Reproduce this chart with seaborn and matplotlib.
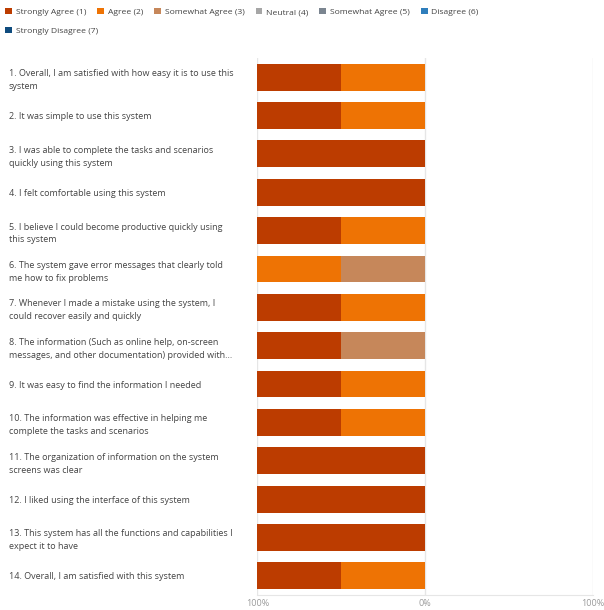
import numpy as np
import pandas as pd
import seaborn as sns
import matplotlib.pyplot as plt
from matplotlib.patches import Patch

# survey statements (y axis)
questions = [
    "1. Overall, I am satisfied with how easy it is to use this\nsystem",
    "2. It was simple to use this system",
    "3. I was able to complete the tasks and scenarios\nquickly using this system",
    "4. I felt comfortable using this system",
    "5. I believe I could become productive quickly using\nthis system",
    "6. The system gave error messages that clearly told\nme how to fix problems",
    "7. Whenever I made a mistake using the system, I\ncould recover easily and quickly",
    "8. The information (Such as online help, on-screen\nmessages, and other documentation) provided with...",
    "9. It was easy to find the information I needed",
    "10. The information was effective in helping me\ncomplete the tasks and scenarios",
    "11. The organization of information on the system\nscreens was clear",
    "12. I liked using the interface of this system",
    "13. This system has all the functions and capabilities I\nexpect it to have",
    "14. Overall, I am satisfied with this system",
]

# share of answers in percent
strongly_agree = [50, 50, 100, 100, 50, 0, 50, 50, 50, 50, 100, 100, 100, 50]
agree = [50, 50, 0, 0, 50, 50, 50, 0, 50, 50, 0, 0, 0, 50]
somewhat_agree = [0, 0, 0, 0, 0, 50, 0, 50, 0, 0, 0, 0, 0, 0]

legend_labels = ["Strongly Agree (1)", "Agree (2)", "Somewhat Agree (3)", "Neutral (4)",
                 "Somewhat Agree (5)", "Disagree (6)", "Strongly Disagree (7)"]
legend_colors = ["#BC3C00", "#EE7304", "#C6875A", "#A6A6A6", "#7B8590", "#2F7EBC", "#0F4C7E"]

df = pd.DataFrame({"question": questions, "sa": strongly_agree,
                   "a": agree, "swa": somewhat_agree})
# agree side is drawn to the left of 0, outermost category first
df["c1"] = -(df["sa"] + df["a"] + df["swa"])
df["c2"] = -(df["a"] + df["swa"])
df["c3"] = -df["swa"]

plt.rcParams["font.family"] = ["Open Sans", "DejaVu Sans"]
fig = plt.figure(figsize=(6.04, 6.10), dpi=100)
ax = fig.add_axes([0.426, 0.0246, 0.556, 0.8804])

for col, color in zip(["c1", "c2", "c3"], legend_colors[:3]):
    sns.barplot(data=df, x=col, y="question", orient="h", color=color,
                width=0.7, saturation=1, ax=ax, edgecolor="none")

ax.set_xlim(-100, 100)
ax.set_ylim(13.5, -0.5)
ax.set_xticks([-100, 0, 100])
ax.set_xticklabels(["100%", "0%", "100%"], color="#9a9a9a", fontsize=6.5)
ax.tick_params(axis="x", length=0, pad=3)
ax.tick_params(axis="y", length=0, pad=179)
ax.set_yticks(range(len(questions)))
ax.set_yticklabels(questions, ha="left", fontsize=6.5, color="#444444", linespacing=1.55)
ax.set_xlabel("")
ax.set_ylabel("")
for x in [-100, 0, 100]:
    ax.axvline(x, color="#e6e6e6", lw=1, zorder=0)
for s in ["top", "left", "right"]:
    ax.spines[s].set_visible(False)
ax.spines["bottom"].set_color("#e6e6e6")

handles = [Patch(facecolor=c, edgecolor="none") for c in legend_colors]
leg_kw = dict(frameon=False, fontsize=6.1, handlelength=0.8, handleheight=0.8,
              handletextpad=0.45, columnspacing=1.3, borderaxespad=0, borderpad=0)
leg1 = fig.legend(handles[:6], legend_labels[:6], ncol=6, loc="center left",
                  bbox_to_anchor=(0.009, 1 - 12 / 610), **leg_kw)
leg2 = fig.legend(handles[6:], legend_labels[6:], ncol=1, loc="center left",
                  bbox_to_anchor=(0.009, 1 - 31 / 610), **leg_kw)
for leg in (leg1, leg2):
    for t in leg.get_texts():
        t.set_color("#444444")

fig.savefig("out.png", dpi=100)
